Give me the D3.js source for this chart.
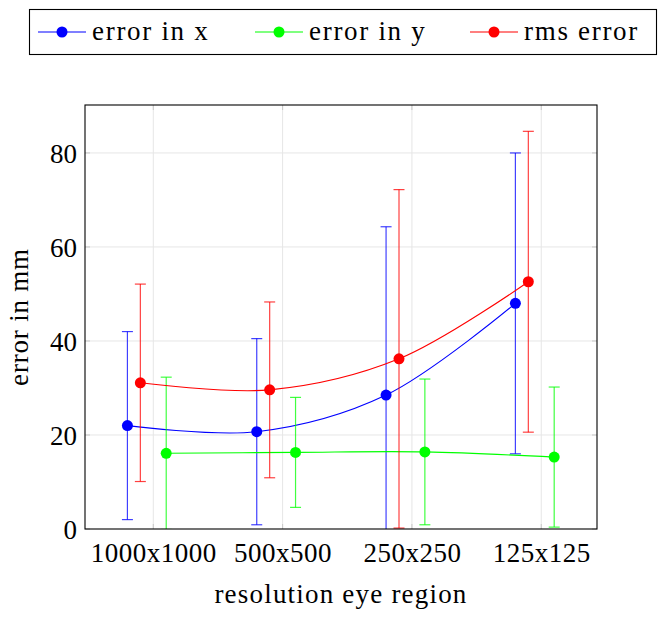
<!DOCTYPE html>
<html><head><meta charset="utf-8">
<script src="https://cdn.jsdelivr.net/npm/d3@7"></script>
<style>body{margin:0;background:#fff}svg{display:block}</style>
</head><body>
<script>
const categories = ["1000x1000","500x500","250x250","125x125"];
const errX = [22.0, 20.7, 28.5, 48.0];
const errXsd = [20.0, 19.8, 35.8, 32.0];
const errY = [16.1, 16.3, 16.4, 15.3];
const errYsd = [16.2, 11.7, 15.5, 14.9];
const rms = [31.1, 29.6, 36.2, 52.6];
const rmsSd = [21.0, 18.7, 36.0, 32.0];
const yTicks = [0, 20, 40, 60, 80];
const seriesNames = ["error in x", "error in y", "rms error"];
const seriesColors = ["#0000ff", "#00ff00", "#ff0000"];
const seriesOffsets = [-0.2, 0.1, -0.1];

const FONT = '"Liberation Serif", "Times New Roman", serif';
const FS = 27;
const W = 663, H = 618;
const L = 85, R = 597, T = 105, B = 529;
const svg = d3.select("body").append("svg").attr("width", W).attr("height", H);

const x = d3.scaleLinear().domain([0.472, 4.431]).range([L, R]);
const y = d3.scaleLinear().domain([0, 90.2]).range([B, T]);

// grid
const g = svg.append("g");
g.selectAll(".hg").data(yTicks.filter(d => d > 0)).join("line")
  .attr("x1", L).attr("x2", R).attr("y1", d => y(d)).attr("y2", d => y(d))
  .attr("stroke", "#e6e6e6").attr("stroke-width", 1);
g.selectAll(".vg").data(categories).join("line")
  .attr("x1", (d, i) => x(i + 1)).attr("x2", (d, i) => x(i + 1)).attr("y1", T).attr("y2", B)
  .attr("stroke", "#e6e6e6").attr("stroke-width", 1);

// axes
const yAxis = d3.axisLeft(y).tickValues(yTicks).tickSize(0).tickPadding(8);
const ya = svg.append("g").attr("transform", `translate(${L},0)`).call(yAxis);
ya.select(".domain").remove();
ya.selectAll("text").style("font-size", FS + "px").style("font-family", FONT).attr("dy", "0.34em").attr("fill", "#000");

const xAxis = d3.axisBottom(x).tickValues([1, 2, 3, 4]).tickFormat((d) => categories[d - 1]).tickSize(0).tickPadding(14);
const xa = svg.append("g").attr("transform", `translate(0,${B})`).call(xAxis);
xa.select(".domain").remove();
xa.selectAll("text").style("font-size", FS + "px").style("font-family", FONT).style("letter-spacing", "0.5px").attr("fill", "#000");

// clip
svg.append("clipPath").attr("id", "clip").append("rect").attr("x", L).attr("y", T).attr("width", R - L).attr("height", B - T);
const plot = svg.append("g").attr("clip-path", "url(#clip)");

const series = [
  {v: errX, e: errXsd},
  {v: errY, e: errYsd},
  {v: rms, e: rmsSd}
];
const line = d3.line().x(d => d[0]).y(d => d[1]).curve(d3.curveCatmullRom.alpha(0.5));
const cap = 5.5;
series.forEach((s, k) => {
  const col = seriesColors[k];
  const pts = s.v.map((v, i) => [x(i + 1 + seriesOffsets[k]), y(v)]);
  plot.append("path").attr("d", line(pts)).attr("fill", "none").attr("stroke", col).attr("stroke-width", 1.1);
  s.v.forEach((v, i) => {
    const px = x(i + 1 + seriesOffsets[k]);
    const lo = y(v - s.e[i]), hi = y(v + s.e[i]);
    const eg = plot.append("g").attr("stroke", col).attr("stroke-opacity", 0.75).attr("stroke-width", 1.2);
    eg.append("line").attr("x1", px).attr("x2", px).attr("y1", lo).attr("y2", hi);
    eg.append("line").attr("x1", px - cap).attr("x2", px + cap).attr("y1", lo).attr("y2", lo);
    eg.append("line").attr("x1", px - cap).attr("x2", px + cap).attr("y1", hi).attr("y2", hi);
  });
  plot.selectAll(null).data(pts).join("circle").attr("cx", d => d[0]).attr("cy", d => d[1]).attr("r", 5.5).attr("fill", col);
});

// inward ticks
const tk = svg.append("g").attr("stroke", "#c8c8c8").attr("stroke-width", 1);
yTicks.forEach(t => {
  tk.append("line").attr("x1", L).attr("x2", L + 5).attr("y1", y(t)).attr("y2", y(t));
  tk.append("line").attr("x1", R).attr("x2", R - 5).attr("y1", y(t)).attr("y2", y(t));
});
[1,2,3,4].forEach(t => {
  tk.append("line").attr("x1", x(t)).attr("x2", x(t)).attr("y1", B).attr("y2", B - 5);
  tk.append("line").attr("x1", x(t)).attr("x2", x(t)).attr("y1", T).attr("y2", T + 5);
});

// frame
svg.append("rect").attr("x", L).attr("y", T).attr("width", R - L).attr("height", B - T)
  .attr("fill", "none").attr("stroke", "#000").attr("stroke-width", 1.1);

// axis titles
svg.append("text").attr("x", 341).attr("y", 603).attr("text-anchor", "middle")
  .style("font-size", FS + "px").style("font-family", FONT).style("letter-spacing", "1.2px").text("resolution eye region");
svg.append("text").attr("transform", `translate(28,${(T + B) / 2}) rotate(-90)`).attr("text-anchor", "middle")
  .style("font-size", FS + "px").style("font-family", FONT).style("letter-spacing", "0.8px").text("error in mm");

// legend
const lg = svg.append("g");
lg.append("rect").attr("x", 29.5).attr("y", 9.5).attr("width", 627).attr("height", 45).attr("fill", "#fff").attr("stroke", "#000").attr("stroke-width", 1.1);
const legX = [38, 255, 470];
seriesNames.forEach((n, k) => {
  const lx = legX[k];
  lg.append("line").attr("x1", lx).attr("x2", lx + 48).attr("y1", 32).attr("y2", 32).attr("stroke", seriesColors[k]).attr("stroke-width", 1.1);
  lg.append("circle").attr("cx", lx + 24).attr("cy", 32).attr("r", 5.5).attr("fill", seriesColors[k]);
  lg.append("text").attr("x", lx + 54).attr("y", 40).style("font-size", FS + "px").style("font-family", FONT).style("letter-spacing", "1.7px").text(n);
});
</script>
</body></html>
